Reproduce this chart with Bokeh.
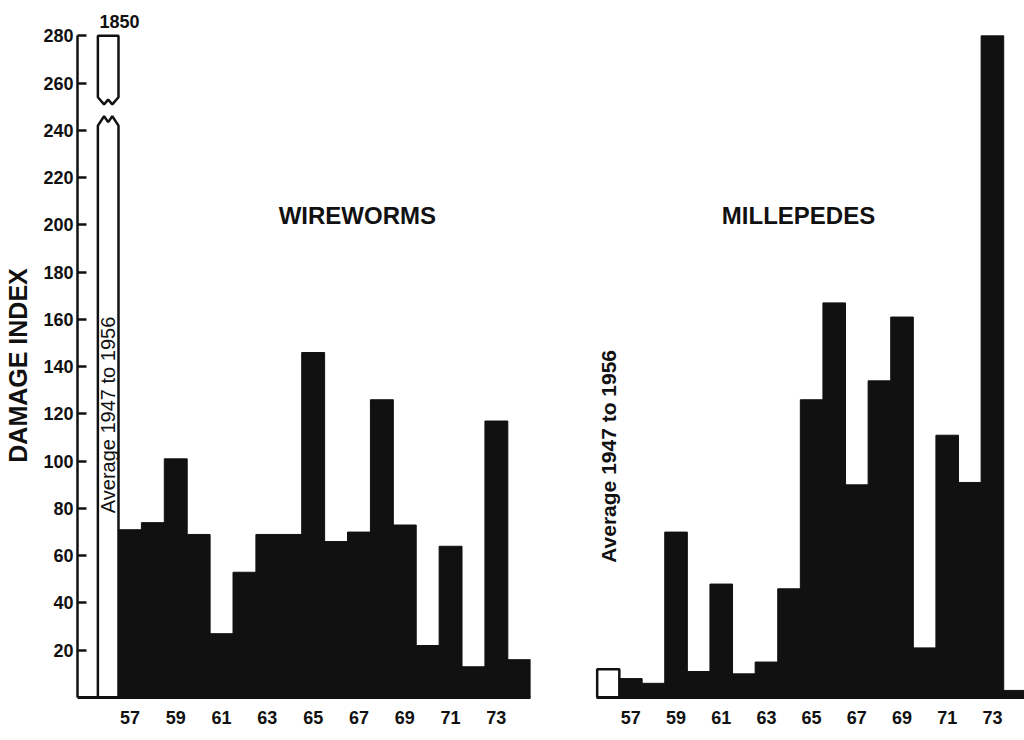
import math
from bokeh.plotting import figure
from bokeh.layouts import row
from bokeh.models import FixedTicker
from bokeh.core.properties import value
from bokeh.embed import file_html
from bokeh.resources import INLINE

# ---------------- data ----------------
years = [57, 58, 59, 60, 61, 62, 63, 64, 65, 66, 67, 68, 69, 70, 71, 72, 73, 74]
wireworms = [71, 74, 101, 69, 27, 53, 69, 69, 146, 66, 70, 126, 73, 22, 64, 13, 117, 16]
millepedes = [8, 6, 70, 11, 48, 10, 15, 46, 126, 167, 90, 134, 161, 21, 111, 91, 280, 3]
wire_avg = 1850          # average 1947-1956, drawn broken
mill_avg = 12            # average 1947-1956
avg_label = "Average 1947 to 1956"
y_ticks = [20, 40, 60, 80, 100, 120, 140, 160, 180, 200, 220, 240, 260, 280]
x_ticks = [57, 59, 61, 63, 65, 67, 69, 71, 73]
axis_top = 280
break_lo, break_hi = 242, 254

FONT = "Liberation Sans"
INK = "#111111"


def style(p):
    p.outline_line_color = None
    p.xgrid.visible = False
    p.ygrid.visible = False
    p.background_fill_color = "white"
    p.border_fill_color = "white"
    p.xaxis.ticker = FixedTicker(ticks=x_ticks)
    p.xaxis.major_tick_in = 0
    p.xaxis.major_tick_out = 0
    p.xaxis.minor_tick_line_color = None
    p.xaxis.axis_line_width = 3
    p.xaxis.axis_line_color = INK
    p.xaxis.major_label_text_font = FONT
    p.xaxis.major_label_text_font_style = "bold"
    p.xaxis.major_label_text_font_size = "18px"
    p.xaxis.major_label_text_color = INK
    p.xaxis.major_label_standoff = 13


# ---------------- left panel: wireworms ----------------
p1 = figure(width=556, height=740, x_range=(54.71, 74.49), y_range=(0, 281),
            output_backend="svg", toolbar_location=None,
            min_border_left=77, min_border_right=26, min_border_top=33, min_border_bottom=43)
style(p1)
p1.xaxis.bounds = (54.71, 74.49)

p1.title.text = str(wire_avg)
p1.title.align = "left"
p1.title.offset = 22
p1.title.standoff = 11
p1.title.text_font = FONT
p1.title.text_font_style = "bold"
p1.title.text_font_size = "18px"
p1.title.text_color = INK

p1.yaxis.ticker = FixedTicker(ticks=y_ticks)
p1.yaxis.bounds = (0, axis_top)
p1.yaxis.major_tick_in = 9
p1.yaxis.major_tick_out = 0
p1.yaxis.minor_tick_line_color = None
p1.yaxis.axis_line_width = 2.5
p1.yaxis.major_tick_line_width = 2.5
p1.yaxis.axis_line_color = INK
p1.yaxis.major_tick_line_color = INK
p1.yaxis.major_label_text_font = FONT
p1.yaxis.major_label_text_font_style = "bold"
p1.yaxis.major_label_text_font_size = "18px"
p1.yaxis.major_label_text_color = INK
p1.yaxis.major_label_standoff = 4
p1.yaxis.axis_label = "DAMAGE INDEX"
p1.yaxis.axis_label_text_font = FONT
p1.yaxis.axis_label_text_font_style = "bold"
p1.yaxis.axis_label_text_font_size = "25px"
p1.yaxis.axis_label_text_color = INK
p1.yaxis.axis_label_standoff = 8

p1.vbar(x=years, top=wireworms, bottom=0, width=1.0, fill_color=INK, line_color=INK)

# broken average bar
x0, x1 = 55.6, 56.5
w = x1 - x0
lower_x = [x0, x0, x0 + 0.3 * w, x0 + 0.5 * w, x0 + 0.7 * w, x1, x1]
lower_y = [0, break_lo, break_lo + 4, break_lo + 1.5, break_lo + 4, break_lo, 0]
upper_x = [x0, x0, x1, x1, x0 + 0.7 * w, x0 + 0.5 * w, x0 + 0.3 * w]
upper_y = [break_hi, axis_top, axis_top, break_hi, break_hi - 3, break_hi - 1, break_hi - 3]
p1.patches(xs=[lower_x, upper_x], ys=[lower_y, upper_y], fill_color="white",
           line_color=INK, line_width=2.5)

p1.text(x=[56.06], y=[78], text=[avg_label], angle=math.pi / 2, text_align="left",
        text_baseline="middle", text_font=value(FONT), text_font_size="20px",
        text_color=INK)
p1.text(x=[66.93], y=[204], text=["WIREWORMS"], text_align="center",
        text_baseline="middle", text_font=value(FONT), text_font_style="bold",
        text_font_size="24px", text_color=INK)

# ---------------- right panel: millepedes ----------------
p2 = figure(width=468, height=740, x_range=(53.71, 74.42), y_range=(0, 281),
            output_backend="svg", toolbar_location=None,
            min_border_left=0, min_border_right=0, min_border_top=33, min_border_bottom=43)
style(p2)
p2.yaxis.visible = False
p2.xaxis.bounds = (55.5, 74.5)

p2.vbar(x=years, top=millepedes, bottom=0, width=1.0, fill_color=INK, line_color=INK)
p2.vbar(x=[56], top=[mill_avg], bottom=0, width=0.98, fill_color="white",
        line_color=INK, line_width=2.5)
p2.text(x=[56.0], y=[57], text=[avg_label], angle=math.pi / 2, text_align="left",
        text_baseline="middle", text_font=value(FONT), text_font_style="bold",
        text_font_size="21px", text_color=INK)
p2.text(x=[64.42], y=[204], text=["MILLEPEDES"], text_align="center",
        text_baseline="middle", text_font=value(FONT), text_font_style="bold",
        text_font_size="24px", text_color=INK)

layout = row(p1, p2)
open("out.html", "w").write(file_html(layout, INLINE))
